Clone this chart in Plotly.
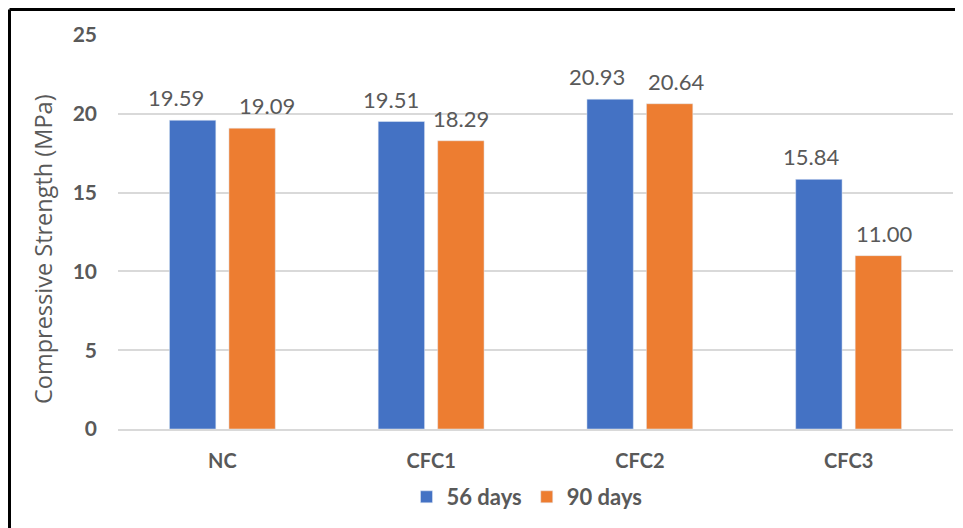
import plotly.graph_objects as go

categories = ["NC", "CFC1", "CFC2", "CFC3"]
days56 = [19.59, 19.51, 20.93, 15.84]
days90 = [19.09, 18.29, 20.64, 11.00]
series_names = ["56 days", "90 days"]
y_ticks = [0, 5, 10, 15, 20, 25]
y_title = "Compressive Strength (MPa)"

# label nudges (pixels, horizontal) as in the original layout
nudge_56 = [-17, -10, -13, -8]
nudge_90 = [15, 0, 6, 6]

W, H = 955, 520
ML, MR, MT, MB = 110, 10, 27, 99
PW = W - ML - MR
PH = H - MT - MB

BLUE = "#4472C4"
ORANGE = "#ED7D31"
GRAY = "#595959"
GRID = "#D9D9D9"
FONT = "Lato"

bargap = 0.43
bargroupgap = 0.22

fig = go.Figure()
fig.add_bar(x=categories, y=days56, name=series_names[0], marker_color=BLUE)
fig.add_bar(x=categories, y=days90, name=series_names[1], marker_color=ORANGE)

slot_px = PW / len(categories) * (1 - bargap) / 2
annotations = []
for vals, sign, nudges in ((days56, -1, nudge_56), (days90, 1, nudge_90)):
    for c, v, n in zip(categories, vals, nudges):
        annotations.append(dict(
            x=c, y=v, xref="x", yref="y", text=f"{v:.2f}", showarrow=False,
            xshift=sign * slot_px / 2 + n, yanchor="bottom", yshift=7,
            font=dict(family=FONT, size=22, color=GRAY)))

annotations.append(dict(
    x=(35 - ML) / PW, y=(MT + PH - 241) / PH, xref="paper", yref="paper",
    text=y_title, textangle=-90, showarrow=False, xanchor="center", yanchor="middle",
    font=dict(family="Open Sans", size=23.5, color=GRAY)))

border_x = (1.5 - ML) / PW
border_top = 1 + (MT - 1.5) / PH
shapes = [
    dict(type="line", xref="paper", yref="paper", x0=border_x, x1=border_x,
         y0=-MB / PH - 0.05, y1=border_top, line=dict(color="black", width=3)),
    dict(type="line", xref="paper", yref="paper", x0=border_x, x1=1 + MR / PW + 0.05,
         y0=border_top, y1=border_top, line=dict(color="black", width=3)),
]

fig.update_layout(
    width=W, height=H,
    margin=dict(l=ML, r=MR, t=MT, b=MB),
    paper_bgcolor="white", plot_bgcolor="white",
    barmode="group", bargap=bargap, bargroupgap=bargroupgap,
    font=dict(family=FONT, color=GRAY),
    showlegend=True,
    legend=dict(orientation="h", x=(519 - ML) / PW, xanchor="center",
                y=(MT + PH - 489) / PH, yanchor="middle",
                font=dict(family=FONT, size=22, color=GRAY, weight="bold"),
                itemwidth=30, traceorder="normal"),
    annotations=annotations,
    shapes=shapes,
    xaxis=dict(showline=True, linecolor=GRID, linewidth=1.5, showgrid=False,
               ticks="", ticklabelstandoff=13,
               tickfont=dict(family=FONT, size=20, color=GRAY, weight="bold")),
    yaxis=dict(range=[0, 25], tickvals=y_ticks, showgrid=True, gridcolor=GRID,
               gridwidth=1.5, zeroline=False, showline=False, ticks="",
               ticklabelstandoff=20,
               tickfont=dict(family=FONT, size=21, color=GRAY, weight="bold")),
)

fig.write_html("out.html")
